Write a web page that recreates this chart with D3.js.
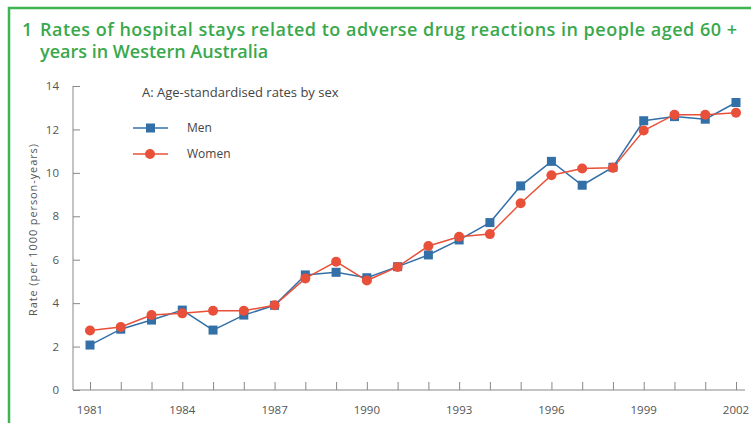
<!DOCTYPE html>
<html>
<head>
<meta charset="utf-8">
<script src="https://cdn.jsdelivr.net/npm/d3@7"></script>
<style>
  body { margin: 0; background: #fff; }
  text { font-family: "Open Sans", "Noto Sans", sans-serif; }
</style>
</head>
<body>
<svg id="chart" width="751" height="423"></svg>
<script>
const years = d3.range(1981, 2003);
const menRates = [2.07, 2.8, 3.22, 3.68, 2.76, 3.45, 3.9, 5.3, 5.42, 5.17, 5.68,
                  6.22, 6.91, 7.71, 9.4, 10.53, 9.43, 10.26, 12.4, 12.59, 12.47, 13.24];
const womenRates = [2.74, 2.9, 3.45, 3.53, 3.65, 3.65, 3.9, 5.14, 5.91, 5.04, 5.67,
                    6.63, 7.06, 7.18, 8.6, 9.89, 10.2, 10.23, 11.95, 12.68, 12.68, 12.77];
const xTickLabels = [1981, 1984, 1987, 1990, 1993, 1996, 1999, 2002];
const yTicks = [0, 2, 4, 6, 8, 10, 12, 14];

const svg = d3.select("#chart");
const green = "#3db552";
const blue = "#3470a8";
const red = "#e8503a";

// green frame
svg.append("path")
    .attr("d", "M9,430 L9,8 L760,8")
    .attr("fill", "none")
    .attr("stroke", green)
    .attr("stroke-width", 2.5);

// title
const title = svg.append("text")
    .attr("x", 22)
    .attr("y", 36)
    .attr("fill", "#3aa84c")
    .style("font-size", "18px")
    .style("font-weight", 600);
title.append("tspan")
    .attr("x", 22)
    .text("1");
title.append("tspan")
    .attr("x", 40)
    .attr("textLength", 697)
    .text("Rates of hospital stays related to adverse drug reactions in people aged 60 +");
title.append("tspan")
    .attr("x", 40)
    .attr("dy", 22)
    .text("years in Western Australia");

const x = d3.scaleLinear().domain([1981, 2002]).range([90, 736]);
const y = d3.scaleLinear().domain([0, 14]).range([390, 86]);

// axes
const xAxis = svg.append("g")
    .attr("transform", "translate(0,390)")
    .call(d3.axisBottom(x).tickValues(years).tickSize(-8).tickFormat(""));
xAxis.select(".domain").attr("d", "M73,0H745").attr("stroke", "#888");
xAxis.selectAll(".tick line").attr("stroke", "#888");

svg.selectAll(".xlabel")
    .data(xTickLabels)
    .enter().append("text")
    .attr("class", "xlabel")
    .attr("x", d => x(d))
    .attr("y", 414)
    .attr("text-anchor", "middle")
    .attr("fill", "#555")
    .style("font-size", "11.5px")
    .text(d => d);

const yAxis = svg.append("g")
    .attr("transform", "translate(73,0)")
    .call(d3.axisLeft(y).tickValues(yTicks).tickSize(-7).tickPadding(14));
yAxis.select(".domain").attr("d", "M0,86V390").attr("stroke", "#888");
yAxis.selectAll(".tick line").attr("stroke", "#888");
yAxis.selectAll(".tick text")
    .attr("fill", "#555")
    .style("font-size", "11.5px")
    .style("font-family", "'Open Sans', sans-serif");

svg.append("text")
    .attr("transform", "translate(37,230) rotate(-90)")
    .attr("text-anchor", "middle")
    .attr("fill", "#555")
    .attr("textLength", 172)
    .style("font-size", "11px")
    .text("Rate (per 1000 person-years)");

// lines
const series = [
    { name: "Men", values: menRates, color: blue, shape: "square" },
    { name: "Women", values: womenRates, color: red, shape: "circle" }
];

const line = d3.line()
    .x((d, i) => x(years[i]))
    .y(d => y(d));

series.forEach(s => {
    svg.append("path")
        .attr("d", line(s.values))
        .attr("fill", "none")
        .attr("stroke", s.color)
        .attr("stroke-width", 1.5);
});

// markers (men drawn first, women on top)
series.forEach(s => {
    const g = svg.append("g");
    if (s.shape == "square") {
        g.selectAll("rect")
            .data(s.values)
            .enter().append("rect")
            .attr("x", (d, i) => x(years[i]) - 4.5)
            .attr("y", d => y(d) - 4.5)
            .attr("width", 9)
            .attr("height", 9)
            .attr("fill", s.color);
    } else {
        g.selectAll("circle")
            .data(s.values)
            .enter().append("circle")
            .attr("cx", (d, i) => x(years[i]))
            .attr("cy", d => y(d))
            .attr("r", 5)
            .attr("fill", s.color);
    }
});

// subtitle and legend
svg.append("text")
    .attr("x", 142)
    .attr("y", 97)
    .attr("fill", "#444")
    .style("font-size", "13px")
    .text("A: Age-standardised rates by sex");

series.forEach((s, i) => {
    const ly = 128 + i * 26;
    svg.append("line")
        .attr("x1", 133).attr("x2", 168)
        .attr("y1", ly).attr("y2", ly)
        .attr("stroke", s.color)
        .attr("stroke-width", 1.5);
    if (s.shape == "square") {
        svg.append("rect")
            .attr("x", 146).attr("y", ly - 4.5)
            .attr("width", 9).attr("height", 9)
            .attr("fill", s.color);
    } else {
        svg.append("circle")
            .attr("cx", 150).attr("cy", ly).attr("r", 5)
            .attr("fill", s.color);
    }
    svg.append("text")
        .attr("x", 187)
        .attr("y", ly + 4)
        .attr("fill", "#444")
        .style("font-size", "12px")
        .text(s.name);
});
</script>
</body>
</html>
